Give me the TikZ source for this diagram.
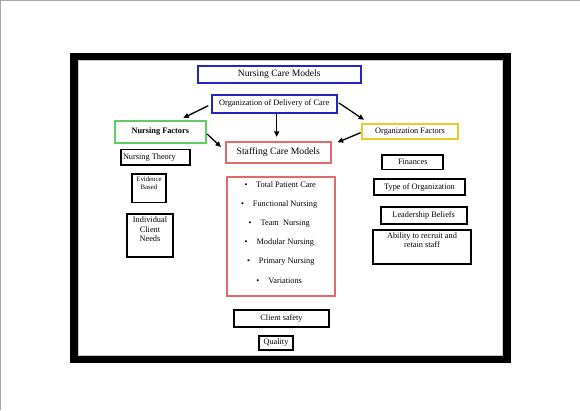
\documentclass[tikz,border=0pt]{standalone}
\usepackage{fontspec}
\setmainfont{Liberation Serif}
\usetikzlibrary{arrows.meta}
\definecolor{bxblue}{RGB}{35,35,200}
\definecolor{bxgreen}{RGB}{95,205,95}
\definecolor{bxyellow}{RGB}{240,200,40}
\definecolor{bxred}{RGB}{228,105,105}
\tikzset{
  bx/.style={draw, line width=1.7pt, inner sep=1pt, font=\fontsize{8.3}{9.5}\selectfont, align=center},
  colbx/.style={bx, line width=2pt},
  item/.style={anchor=west, inner sep=0pt, font=\fontsize{8.3}{9.5}\selectfont},
  arr/.style={line width=1.3pt, -{Triangle[length=5.5pt,width=5pt]}},
}
\begin{document}
\begin{tikzpicture}[x=1pt,y=-1pt]
\useasboundingbox (0,0) rectangle (580,410);
\fill[white] (0,0) rectangle (580,410);
\draw[gray!70, line width=1pt] (0,0.5) -- (580,0.5);
\draw[gray!70, line width=1pt] (0.5,0) -- (0.5,410);
% frame
\draw[line width=7.5pt] (74,56.5) rectangle (507,359);
\draw[gray!45, line width=0.6pt] (78.3,60.6) rectangle (502.7,355.2);

% titles
\node[colbx, draw=bxblue, minimum width=163pt, minimum height=17pt, font=\fontsize{9.6}{11}\selectfont] (ncm) at (279.3,74.7) {Nursing Care Models};
\node[colbx, draw=bxblue, minimum width=125pt, minimum height=17.7pt] (odc) at (274.2,103.8) {Organization of Delivery of Care};
\node[colbx, draw=bxgreen, minimum width=90.7pt, minimum height=22.7pt, font=\fontsize{8.3}{9.5}\selectfont\bfseries] (nf) at (160.3,132) {Nursing Factors};
\node[colbx, draw=bxyellow, minimum width=96.7pt, minimum height=15.3pt] (of) at (410,131.7) {Organization Factors};
\node[colbx, draw=bxred, minimum width=105.3pt, minimum height=21.3pt, font=\fontsize{9.7}{11}\selectfont] (scm) at (278.3,152.3) {Staffing Care Models};

% left column
\node[bx, minimum width=69pt, minimum height=15.7pt] (nt) at (155.5,157.2) {\makebox[65pt][l]{Nursing Theory}};
\node[bx, minimum width=33.4pt, minimum height=28.3pt] (eb) at (149,188.2) {\parbox[c][25pt][t]{30pt}{\centering\vspace{1pt}\fontsize{6.8}{7.6}\selectfont Evidence\\Based}};
\node[bx, minimum width=46.6pt, minimum height=42.7pt] (icn) at (150,235.3) {\parbox[c][39pt][t]{44pt}{\centering\vspace{1pt}\fontsize{8.3}{9.6}\selectfont Individual\\Client\\Needs}};

% list box
\node[draw=bxred, line width=2pt, minimum width=108.3pt, minimum height=118.7pt] (list) at (280.8,236.7) {};
\node[item] (i1) at (244.5,185) {\textbullet\hspace{8.5pt}Total Patient Care};
\node[item] (i2) at (240.8,204.3) {\textbullet\hspace{9pt}Functional Nursing};
\node[item] (i3) at (248.5,223.3) {\textbullet\hspace{9pt}Team\ \ Nursing};
\node[item] (i4) at (244.5,242.7) {\textbullet\hspace{9pt}Modular Nursing};
\node[item] (i5) at (246.8,262) {\textbullet\hspace{9pt}Primary Nursing};
\node[item] (i6) at (256.2,281.3) {\textbullet\hspace{9pt}Variations};

% right column
\node[bx, minimum width=61pt, minimum height=14.3pt] (fin) at (412.8,162.2) {Finances};
\node[bx, minimum width=91pt, minimum height=16pt] (to) at (419.5,187) {Type of Organization};
\node[bx, minimum width=86pt, minimum height=17.3pt] (lb) at (423.7,215.3) {Leadership Beliefs};
\node[bx, minimum width=97.4pt, minimum height=34pt] (ar) at (422,247) {\parbox[c][31pt][t]{94pt}{\centering\vspace{1pt}Ability to recruit and\\retain staff}};

% bottom
\node[bx, minimum width=95pt, minimum height=16.7pt] (cs) at (281.5,318.3) {Client safety};
\node[bx, minimum width=33.4pt, minimum height=14.3pt] (q) at (276,342.8) {Quality};

% arrows
\draw[arr] ([shift={(-2.4,1.9)}]odc.west) -- ([shift={(23,-1.7)}]nf.north);
\draw[arr] ([shift={(2.5,0.3)}]odc.south) -- ([shift={(-1.6,-3.7)}]scm.north);
\draw[arr] ([shift={(1,-1)}]odc.east) -- ([shift={(-46,-3.3)}]of.north);
\draw[arr] ([shift={(0.5,2)}]nf.east) -- ([shift={(-3.7,-5.3)}]scm.west);
\draw[arr] ([shift={(0,1)}]of.west) -- ([shift={(5.7,1.6)}]scm.north east);
\end{tikzpicture}
\end{document}
